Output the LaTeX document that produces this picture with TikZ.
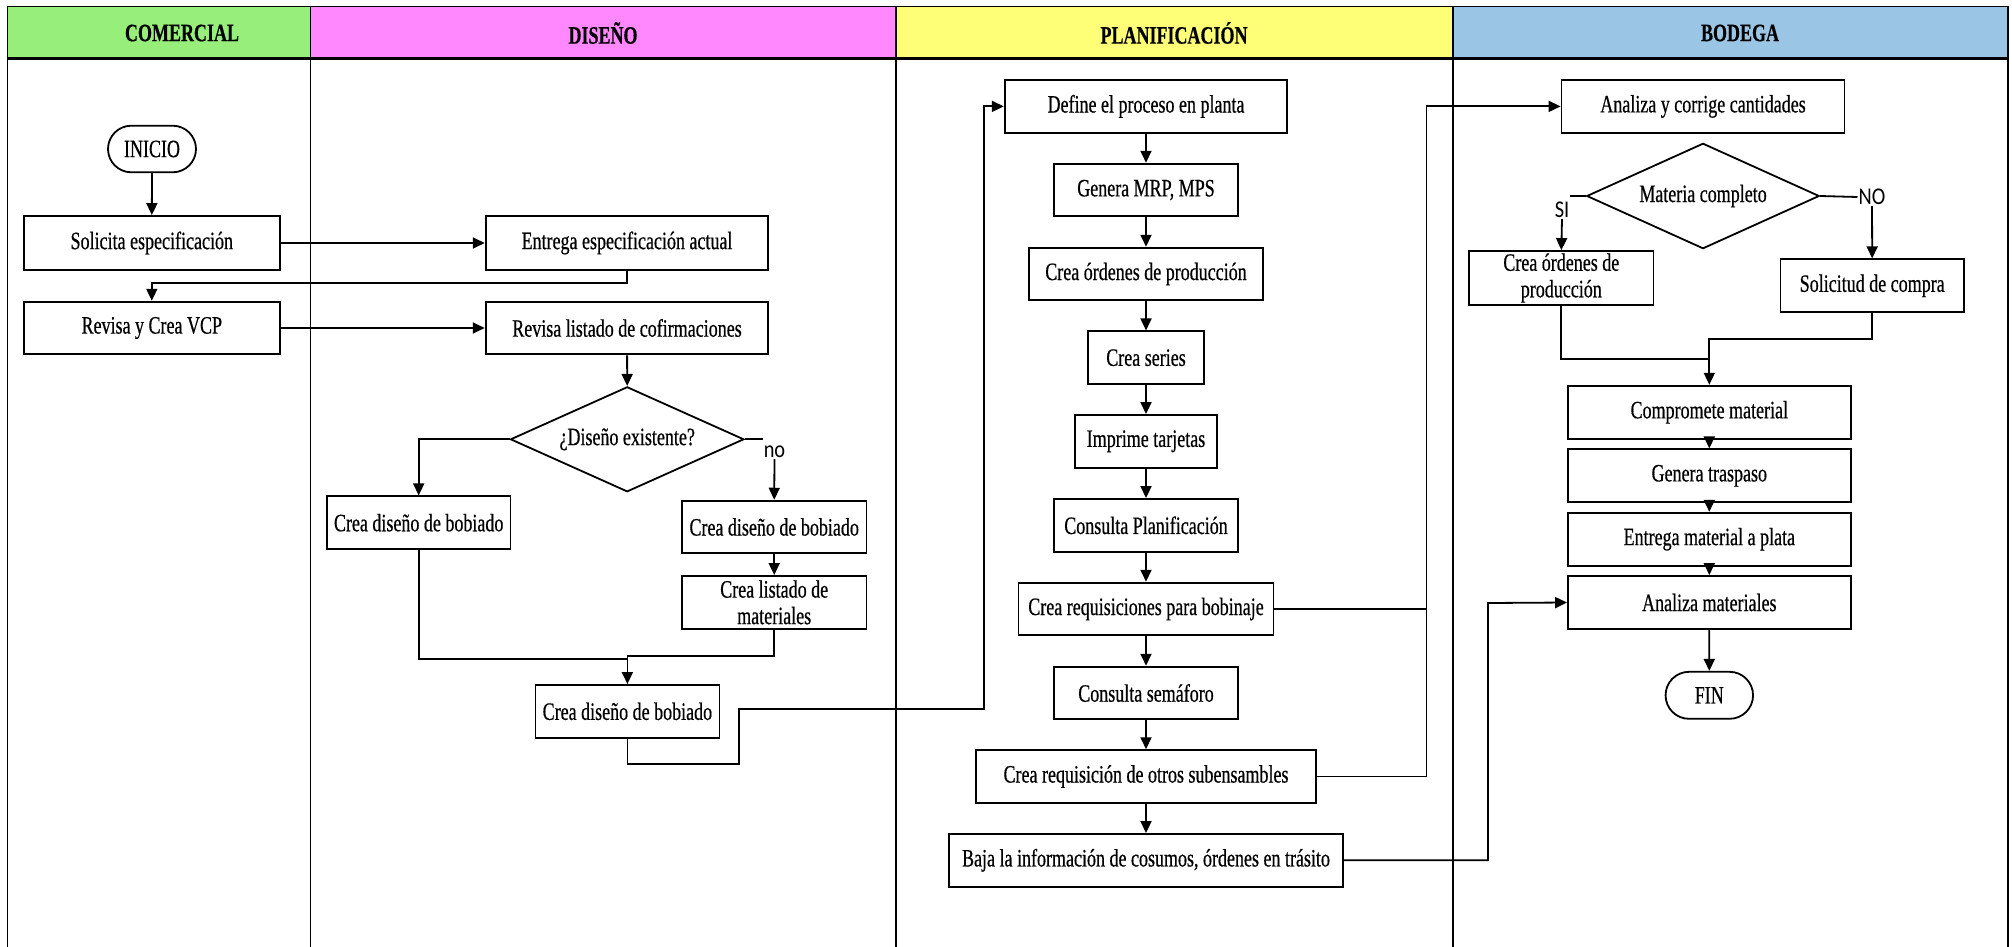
\documentclass[tikz,border=0pt]{standalone}
\usepackage{fontspec}
\setmainfont{Liberation Serif}[FakeStretch=0.72, FakeBold=0.5]
\newfontfamily\lblfont{Carlito}[FakeStretch=0.85]
\usetikzlibrary{arrows.meta,shapes.geometric,shapes.misc}

\definecolor{cgreen}{RGB}{152,238,122}
\definecolor{cpink}{RGB}{255,136,255}
\definecolor{cyellow}{RGB}{255,255,119}
\definecolor{cblue}{RGB}{155,197,228}

\tikzset{
  bodytxt/.style={font=\fontsize{25}{26.5}\selectfont},
  box/.style={draw, line width=1.8pt, inner sep=2pt, align=center, bodytxt,
              minimum height=52.7pt},
  term/.style={draw, line width=1.8pt, rounded rectangle, inner sep=2pt, bodytxt},
  decision/.style={draw, line width=1.8pt, diamond, aspect=2.22, inner sep=0pt, bodytxt},
  lbl/.style={inner sep=1pt, font=\lblfont\fontsize{24}{25}\selectfont},
  lanehead/.style={font=\bfseries\fontsize{25}{26}\selectfont},
  conn/.style={line width=1.8pt},
  arr/.style={conn, -{Triangle[length=12pt,width=11pt]}},
  lane/.style={line width=1.8pt}
}

\begin{document}
\begin{tikzpicture}[x=1pt,y=-1pt]
\useasboundingbox (0,0) rectangle (2012,947);

% lane headers
\fill[cgreen]  (7.5,6.5) rectangle (310.5,58.5);
\fill[cpink]   (310.5,6.5) rectangle (895.7,58.5);
\fill[cyellow] (895.7,6.5) rectangle (1452.6,58.5);
\fill[cblue]   (1452.6,6.5) rectangle (2008,58.5);
\draw[line width=1.4pt] (7.5,6.5) -- (2008,6.5);
\draw[line width=2.4pt] (7.5,58.5) -- (2008,58.5);
\foreach \lx in {7.5,310.5,895.7,1452.6,2008}
  \draw[lane] (\lx,6.5) -- (\lx,947);

\node[lanehead] (h1) at (182,33) {COMERCIAL};
\node[lanehead] (h2) at (603,33) {DISEÑO};
\node[lanehead] (h3) at (1174,33) {PLANIFICACIÓN};
\node[lanehead] (h4) at (1740,33) {BODEGA};

% COMERCIAL
\node[term, minimum width=92pt, minimum height=46.6pt] (ini) at (152,149) {INICIO};
\node[box, minimum width=255.6pt, minimum height=54pt] (sol) at (151.8,243) {Solicita especificación};
\node[box, minimum width=255.6pt] (rev) at (151.8,328) {Revisa y Crea VCP};

% DISEÑO
\node[box, minimum width=282.7pt, minimum height=54pt] (ent) at (627,243) {Entrega especificación actual};
\node[box, minimum width=282.7pt] (lis) at (627,328) {Revisa listado de cofirmaciones};
\node[decision, minimum width=233.5pt, minimum height=105pt] (d1) at (627.2,439.3) {¿Diseño existente?};
\node[box, minimum width=183.7pt] (cd1) at (418.7,522.7) {Crea diseño de bobiado};
\node[lbl] (nol) at (774.5,452) {no};
\node[box, minimum width=184.4pt] (cd2) at (774.2,527) {Crea diseño de bobiado};
\node[box, minimum width=184.4pt] (cl) at (774.2,602.3) {Crea listado de\\materiales};
\node[box, minimum width=184pt] (cd3) at (627.4,711.3) {Crea diseño de bobiado};

% PLANIFICACIÓN
\node[box, minimum width=282.6pt] (p1) at (1146,106.4) {Define el proceso en planta};
\node[box, minimum width=184.3pt] (p2) at (1146,190) {Genera MRP, MPS};
\node[box, minimum width=233.4pt] (p3) at (1146,274) {Crea órdenes de producción};
\node[box, minimum width=116.6pt] (p4) at (1146,357.7) {Crea series};
\node[box, minimum width=141.4pt] (p5) at (1146,441.3) {Imprime tarjetas};
\node[box, minimum width=184.3pt] (p6) at (1146,525.3) {Consulta Planificación};
\node[box, minimum width=255pt] (p7) at (1146,609) {Crea requisiciones para bobinaje};
\node[box, minimum width=184.3pt] (p8) at (1146,693) {Consulta semáforo};
\node[box, minimum width=340pt] (p9) at (1146,776.5) {Crea requisición de otros subensambles};
\node[box, minimum width=394.6pt] (p10) at (1146,860.3) {Baja la información de cosumos, órdenes en trásito};

% BODEGA
\node[box, minimum width=283pt] (b1) at (1703,106.4) {Analiza y corrige cantidades};
\node[decision, minimum width=232.6pt, minimum height=105.4pt] (d2) at (1703,196) {Materia completo};
\node[lbl] (si) at (1562,210) {SI};
\node[lbl] (nob) at (1872,197) {NO};
\node[box, minimum width=184.3pt, minimum height=54pt] (b2) at (1561.3,278) {Crea órdenes de\\producción};
\node[box, minimum width=183.5pt, minimum height=53pt] (b3) at (1872.2,285.8) {Solicitud de compra};
\node[box, minimum width=282.7pt, minimum height=53.3pt] (b4) at (1709.3,412.3) {Compromete material};
\node[box, minimum width=282.7pt, minimum height=53pt] (b5) at (1709.3,475.8) {Genera traspaso};
\node[box, minimum width=282.7pt, minimum height=53pt] (b6) at (1709.3,539.2) {Entrega material a plata};
\node[box, minimum width=282.7pt, minimum height=53pt] (b7) at (1709.3,602.5) {Analiza materiales};
\node[term, minimum width=91.5pt, minimum height=47pt] (fin) at (1709.3,695.3) {FIN};

% routing points
\coordinate (m1) at (627.2,659);
\coordinate (j1) at (739.3,764);
\coordinate (j2) at (984,709);
\coordinate (kx) at (1426.4,106.4);
\coordinate (mx) at (1488,603);
\coordinate (m2) at (1709.4,359);

% COMERCIAL / DISEÑO connectors
\draw[arr] (ini) -- (sol);
\draw[arr] (sol) -- (ent);
\draw[arr] (ent.south) -- ++(0,12.3) -| (rev.north);
\draw[arr] (rev) -- (lis);
\draw[arr] (lis) -- (d1.north);
\draw[arr] (d1.west) -| (cd1.north);
\draw[conn] (d1.east) -- (d1.east -| nol.west);
\draw[arr] (nol.south) -- (cd2.north);
\draw[arr] (cd2) -- (cl);
\draw[conn] (cd1.south) |- (m1);
\draw[arr] (cl.south) -- ++(0,26.3) -| (cd3.north);
\draw[arr] (cd3.south) |- (j1) |- (j2) |- (p1.west);

% PLANIFICACIÓN chain
\foreach \a/\b in {p1/p2,p2/p3,p3/p4,p4/p5,p5/p6,p6/p7,p7/p8,p8/p9,p9/p10}
  \draw[arr] (\a) -- (\b);
\draw[arr] (p7.east) -| (kx) -- (b1.west);
\draw[conn] (p9.east) -| (kx |- p7.east);
\draw[arr] (p10.east) -| (mx) -- (b7.west);

% BODEGA connectors
\draw[conn] (d2.west) -- (d2.west -| si.east);
\draw[arr] (si.south) -- (b2.north);
\draw[conn] (d2.east) -- (nob.west);
\draw[arr] (nob.south) -- (b3.north);
\draw[conn] (b2.south) |- (m2);
\draw[arr] (b3.south) -- ++(0,25.5) -| (b4.north);
\draw[arr] (b4) -- (b5);
\draw[arr] (b5) -- (b6);
\draw[arr] (b6) -- (b7);
\draw[arr] (b7) -- (fin);
\end{tikzpicture}
\end{document}
